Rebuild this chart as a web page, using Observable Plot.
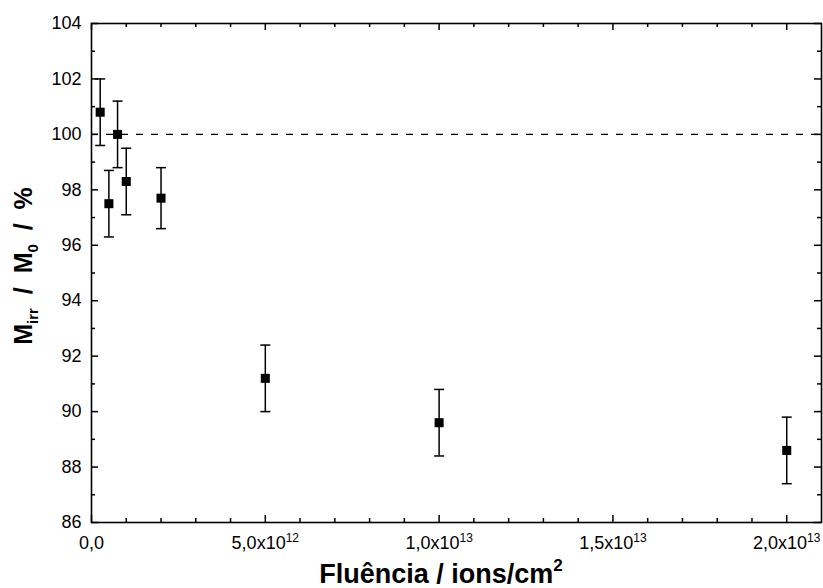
<!DOCTYPE html>
<html>
<head>
<meta charset="utf-8">
<script src="https://cdn.jsdelivr.net/npm/d3@7"></script>
<script src="https://cdn.jsdelivr.net/npm/@observablehq/plot@0.6"></script>
<style>
  html, body { margin: 0; padding: 0; background: #fff; }
  svg { display: block; }
</style>
</head>
<body>
<script>
// Magnetization ratio after irradiation vs. fluence
const fluence = [2.5e11, 5e11, 7.5e11, 1e12, 2e12, 5e12, 1e13, 2e13];
const ratio   = [100.8, 97.5, 100.0, 98.3, 97.7, 91.2, 89.6, 88.6];
const error   = [1.2, 1.2, 1.2, 1.2, 1.1, 1.2, 1.2, 1.2];

const xMajor = [0, 5e12, 1e13, 1.5e13, 2e13];
const xMinor = d3.range(1e12, 2.1e13, 1e12).filter(v => !xMajor.some(m => Math.abs(m - v) < 1));
const xLabels = ["0,0", "5,0x10|12", "1,0x10|13", "1,5x10|13", "2,0x10|13"];
const yMajor = d3.range(86, 105, 2);
const yMinor = d3.range(87, 104, 2);
const refLevel = [100];

const rows = fluence.map((f, i) => ({f, r: ratio[i], lo: ratio[i] - error[i], hi: ratio[i] + error[i]}));

const W = 823, H = 588;
const M = {top: 23, right: 2, bottom: 66, left: 91};
const PW = W - M.left - M.right, PH = H - M.top - M.bottom;
const major = 7, minor = 4;
const FONT = "'Liberation Sans', Arial, sans-serif";
const tickFont = 18;

// horizontal bar used for error-bar caps
const capSymbol = {
  draw(ctx, size) {
    const w = Math.sqrt(size / Math.PI);
    ctx.moveTo(-w, 0);
    ctx.lineTo(w, 0);
  }
};

const chart = Plot.plot({
  width: W,
  height: H,
  marginTop: M.top,
  marginRight: M.right,
  marginBottom: M.bottom,
  marginLeft: M.left,
  style: {fontFamily: FONT, color: "#000", background: "#fff"},
  x: {domain: [0, 2.1e13], axis: null},
  y: {domain: [86, 104], axis: null},
  marks: [
    Plot.ruleY(refLevel, {y: d => d, stroke: "#000", strokeWidth: 1.3, strokeDasharray: "7,8"}),
    // inward ticks on all four sides
    Plot.tickX(xMajor, {x: d => d, insetTop: PH - major, stroke: "#000", strokeWidth: 1.5}),
    Plot.tickX(xMajor, {x: d => d, insetBottom: PH - major, stroke: "#000", strokeWidth: 1.5}),
    Plot.tickX(xMinor, {x: d => d, insetTop: PH - minor, stroke: "#000", strokeWidth: 1.5}),
    Plot.tickX(xMinor, {x: d => d, insetBottom: PH - minor, stroke: "#000", strokeWidth: 1.5}),
    Plot.tickY(yMajor, {y: d => d, insetRight: PW - major, stroke: "#000", strokeWidth: 1.5}),
    Plot.tickY(yMajor, {y: d => d, insetLeft: PW - major, stroke: "#000", strokeWidth: 1.5}),
    Plot.tickY(yMinor, {y: d => d, insetRight: PW - minor, stroke: "#000", strokeWidth: 1.5}),
    Plot.tickY(yMinor, {y: d => d, insetLeft: PW - minor, stroke: "#000", strokeWidth: 1.5}),
    // tick labels
    Plot.text(yMajor, {y: d => d, text: d => String(d), frameAnchor: "left", textAnchor: "end",
      dx: -10, fontSize: tickFont, fill: "#000"}),
    Plot.text(xMajor, {x: d => d, text: (d, i) => xLabels[i], frameAnchor: "bottom", lineAnchor: "top",
      dy: 14, fontSize: tickFont, fill: "#000"}),
    // error bars
    Plot.ruleX(rows, {x: "f", y1: "lo", y2: "hi", stroke: "#000", strokeWidth: 1.5}),
    Plot.dot(rows, {x: "f", y: "lo", symbol: capSymbol, r: 5, stroke: "#000", strokeWidth: 1.5, fill: "none"}),
    Plot.dot(rows, {x: "f", y: "hi", symbol: capSymbol, r: 5, stroke: "#000", strokeWidth: 1.5, fill: "none"}),
    // data points
    Plot.dot(rows, {x: "f", y: "r", symbol: "square", r: 5.1, fill: "#000", stroke: "none"}),
    Plot.frame({stroke: "#000", strokeWidth: 1.6})
  ]
});

document.body.appendChild(chart);

const svg = d3.select(chart);

// exponent superscripts in the x tick labels
svg.selectAll("text").each(function () {
  const t = d3.select(this);
  const parts = t.text().split("|");
  if (parts.length < 2) return;
  t.text(null);
  t.append("tspan").text(parts[0]);
  t.append("tspan").attr("font-size", 12).attr("dy", "-0.6em").text(parts[1]);
});

// axis titles
const xt = svg.append("text")
  .attr("x", 441).attr("y", 583)
  .attr("text-anchor", "middle")
  .attr("font-weight", "bold")
  .attr("font-size", 27)
  .attr("font-family", FONT)
  .attr("fill", "#000");
xt.append("tspan").text("Fluência / ions/cm");
xt.append("tspan").attr("font-size", 17).attr("dy", -12).text("2");

const yt = svg.append("text")
  .attr("transform", "translate(32,266) rotate(-90)")
  .attr("text-anchor", "middle")
  .attr("font-weight", "bold")
  .attr("font-size", 25)
  .attr("font-family", FONT)
  .attr("fill", "#000")
  .style("white-space", "pre");
yt.append("tspan").text("M");
yt.append("tspan").attr("font-size", 15).attr("dy", 6).text("irr");
yt.append("tspan").attr("dy", -6).text("  /  M");
yt.append("tspan").attr("font-size", 15).attr("dy", 6).text("0");
yt.append("tspan").attr("dy", -6).text("  /  %");
</script>
</body>
</html>
